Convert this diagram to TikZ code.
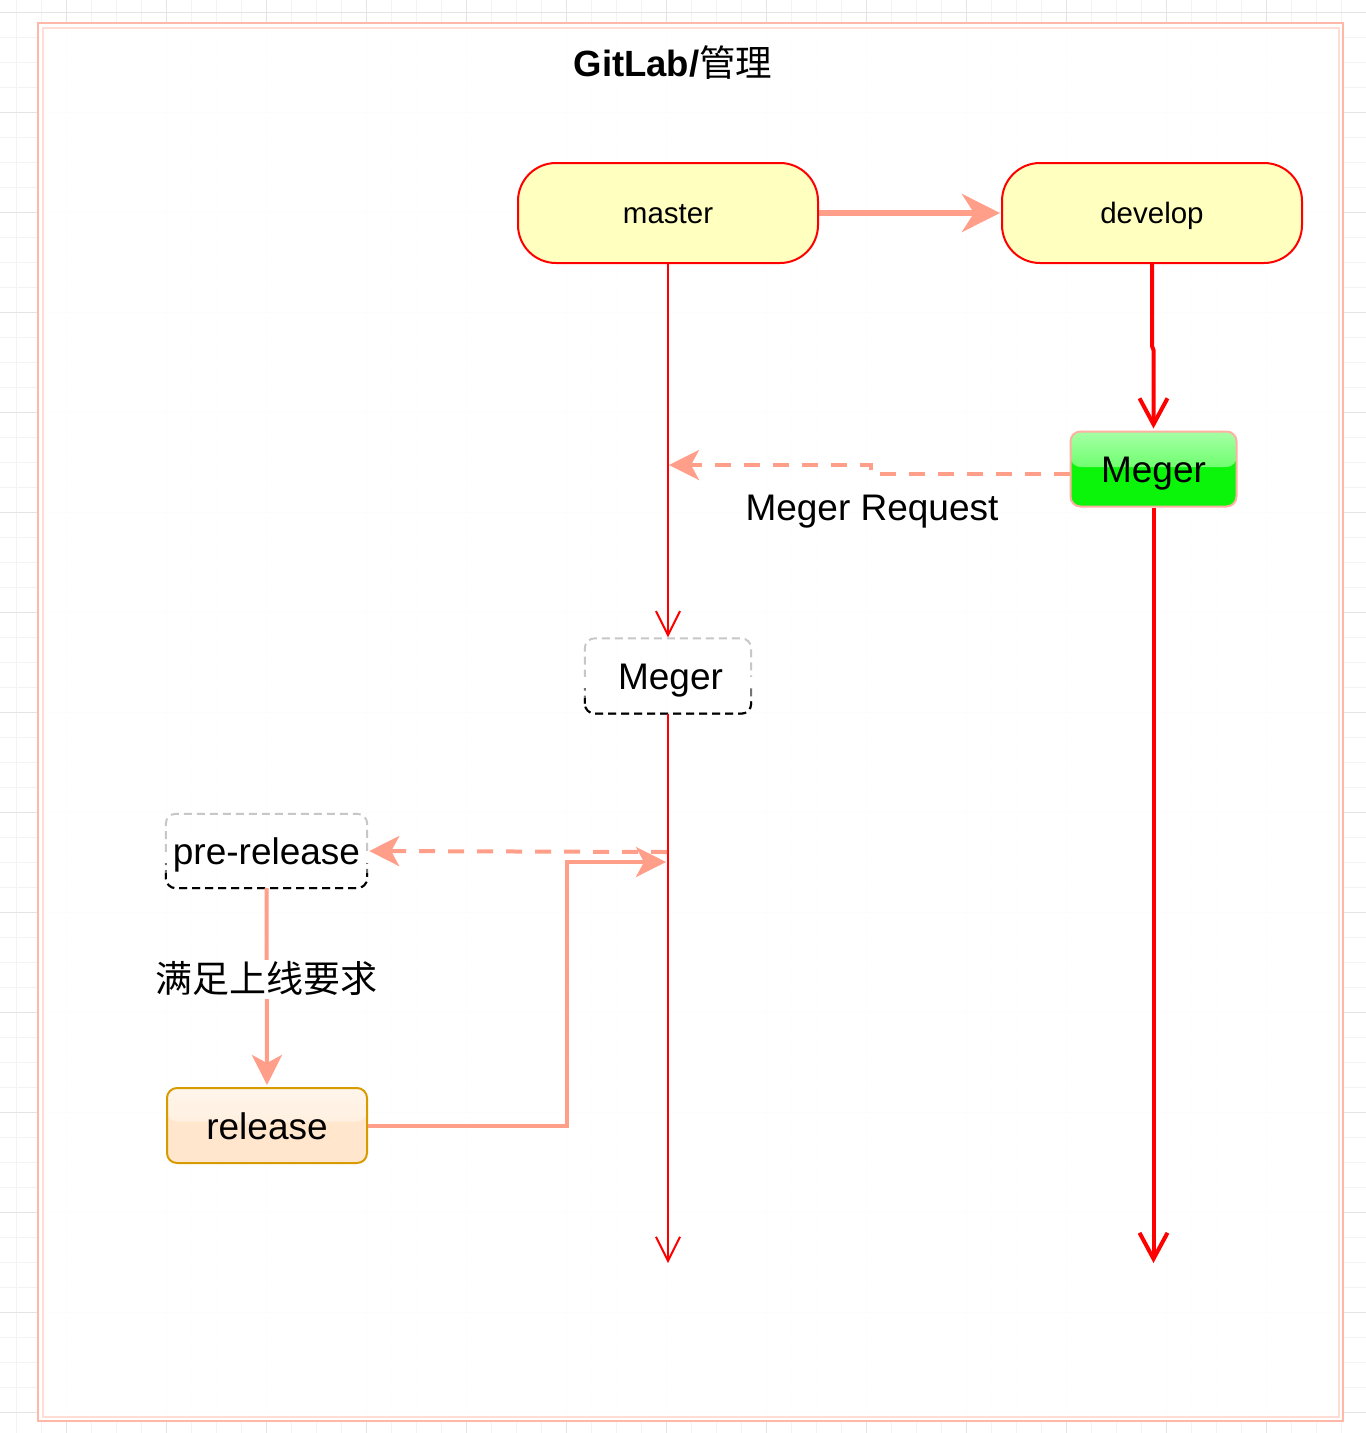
\documentclass[tikz,border=0pt]{standalone}
\usepackage{fontspec}
\setmainfont{Liberation Sans}
\newfontfamily\cjk{Noto Sans CJK SC}
\usetikzlibrary{arrows.meta,calc}
\definecolor{sal}{HTML}{FF9F8A}
\definecolor{red0}{HTML}{FF0000}
\definecolor{ylw}{HTML}{FFFFC0}
\definecolor{frameA}{HTML}{FFB8A8}
\definecolor{frameB}{HTML}{FFDCD4}
\definecolor{gmaj}{HTML}{E4E4E4}
\definecolor{gmin}{HTML}{F3F3F3}
\definecolor{relstroke}{HTML}{D79B00}
\definecolor{relfill}{HTML}{FFE6CC}
\definecolor{grn}{HTML}{0AF50A}
\definecolor{grnstroke}{HTML}{FFB0A0}
\tikzset{
  termbox/.style={draw=red0, line width=2pt, fill=ylw, rounded corners=38pt,
    minimum width=300pt, minimum height=100pt, inner sep=0pt, font=\fontsize{29.5}{34}\selectfont,
    text height=21pt, text depth=0pt},
  mergebox/.style={inner sep=0pt, rounded corners=10pt, minimum width=166pt, minimum height=75pt,
    font=\fontsize{37}{44}\selectfont, text height=27pt, text depth=0pt},
  salsolid/.style={draw=sal, line width=4pt},
  saldash/.style={draw=sal, line width=4pt, dash pattern=on 16pt off 13pt},
  salTip/.style={-{Stealth[length=30pt,width=30pt,inset=8pt]}},
  redthin/.style={draw=red0, line width=2pt},
  redthick/.style={draw=red0, line width=4pt},
  nbd/.style={line width=2pt, dash pattern=on 8pt off 5pt, rounded corners=10pt},
}
\newcommand\gradborder[1]{%
  \begin{scope}
    \clip ([xshift=-6pt,yshift=6pt]#1.north west) rectangle ([xshift=6pt]#1.east);
    \draw[nbd, draw=black!22] (#1.south west) rectangle (#1.north east);
  \end{scope}
  \begin{scope}
    \clip ([xshift=-6pt,yshift=-6pt]#1.south west) rectangle ([xshift=6pt,yshift=-12pt]#1.east);
    \draw[nbd, draw=black!55] (#1.south west) rectangle (#1.north east);
  \end{scope}
  \begin{scope}
    \clip ([xshift=-6pt,yshift=-6pt]#1.south west) rectangle ([xshift=6pt,yshift=-22pt]#1.east);
    \draw[nbd, draw=black] (#1.south west) rectangle (#1.north east);
  \end{scope}}
\begin{document}
\begin{tikzpicture}[x=1pt,y=-1pt]
\useasboundingbox (0,0) rectangle (1366,1433);
\fill[white] (0,0) rectangle (1366,1433);
% grid
\foreach \i in {0,...,55} {\draw[gmin, line width=1pt] ({16.7+25*\i},0) -- ({16.7+25*\i},1433);}
\foreach \i in {0,...,57} {\draw[gmin, line width=1pt] (0,{12.3+25*\i}) -- (1366,{12.3+25*\i});}
\foreach \i in {0,...,13} {\draw[gmaj, line width=1pt] ({66.7+100*\i},0) -- ({66.7+100*\i},1433);}
\foreach \i in {0,...,14} {\draw[gmaj, line width=1pt] (0,{12.3+100*\i}) -- (1366,{12.3+100*\i});}
% frame
\fill[white, opacity=0.94] (38,23) rectangle (1343,1421);
\draw[frameA, line width=2.2pt] (38,23) rectangle (1343,1421);
\draw[frameB, line width=2pt] (42.5,27.5) rectangle (1338.5,1416.5);
% title
\node[font=\fontsize{36.5}{42}\selectfont, text height=26pt, text depth=0pt] (title) at (673,63) {\textbf{GitLab/}{\cjk 管理}};
% nodes
\node[termbox] (master) at (668,213) {master};
\node[termbox] (develop) at (1152,213) {develop};
\node[mergebox, draw=grnstroke, line width=2pt, fill=grn,
  path picture={\shade[top color=green!35!white, bottom color=green!80!white]
    (path picture bounding box.north west) rectangle ([yshift=2pt]path picture bounding box.east);}]
  (gmeger) at (1153.5,469) {Meger};
\node[mergebox] (meger2) at (668,676) {\hspace*{5pt}Meger};
\gradborder{meger2}
\node[mergebox, minimum width=201pt, minimum height=74pt] (prerel) at (266.5,851) {pre-release};
\gradborder{prerel}
\node[mergebox, minimum width=200pt, draw=relstroke, line width=2pt, fill=relfill,
  path picture={\shade[top color=white!60!relfill, bottom color=white!15!relfill]
    (path picture bounding box.north west) rectangle ([yshift=4pt]path picture bounding box.east);}]
  (release) at (267,1125.5) {release};
% coordinates on the lifelines
\coordinate (mrhit) at (669,465);
\coordinate (prhit) at (667,852);
\coordinate (rlhit) at (666,862);
\coordinate (mend) at (668,1263);
\coordinate (dend) at (1153.5,1263);
% connectors
\draw[salsolid, line width=6pt, -{Stealth[length=38pt,width=38pt,inset=12pt]}] (master.east) -- ([xshift=-1pt]develop.west);
\draw[redthick, -{Straight Barb[length=26pt,width=28pt,line width=4pt]}] (develop.south) -- ++(0,82) -- ++(1.5,4) -- ([xshift=0pt,yshift=2pt]gmeger.north);
\draw[redthick, -{Straight Barb[length=26pt,width=28pt,line width=4pt]}] (gmeger.south) -- (dend);
\draw[redthin, -{Straight Barb[length=24pt,width=24pt,line width=2pt]}] (master.south) -- ([yshift=1pt]meger2.north);
\draw[redthin, -{Straight Barb[length=24pt,width=24pt,line width=2pt]}] (meger2.south) -- (mend);
\draw[saldash, salTip] ([yshift=-5pt]gmeger.west) -- ++(-199,0) -- ++(0,-9) -- (mrhit);
\node[font=\fontsize{37}{44}\selectfont, text height=27pt, text depth=0pt] (mrlabel) at (872,507) {Meger Request};
\draw[saldash, salTip] (prhit) -- ([xshift=2pt]prerel.east);
\draw[salsolid, salTip] (prerel.south) -- ([yshift=2pt]release.north)
  node[pos=0.465, fill=white, inner sep=2pt, text height=30pt, text depth=5pt, font=\fontsize{37}{44}\selectfont\cjk] (req) {满足上线要求};
\draw[salsolid, salTip] (release.east) -- ++(199,0) |- (rlhit);
\end{tikzpicture}
\end{document}
